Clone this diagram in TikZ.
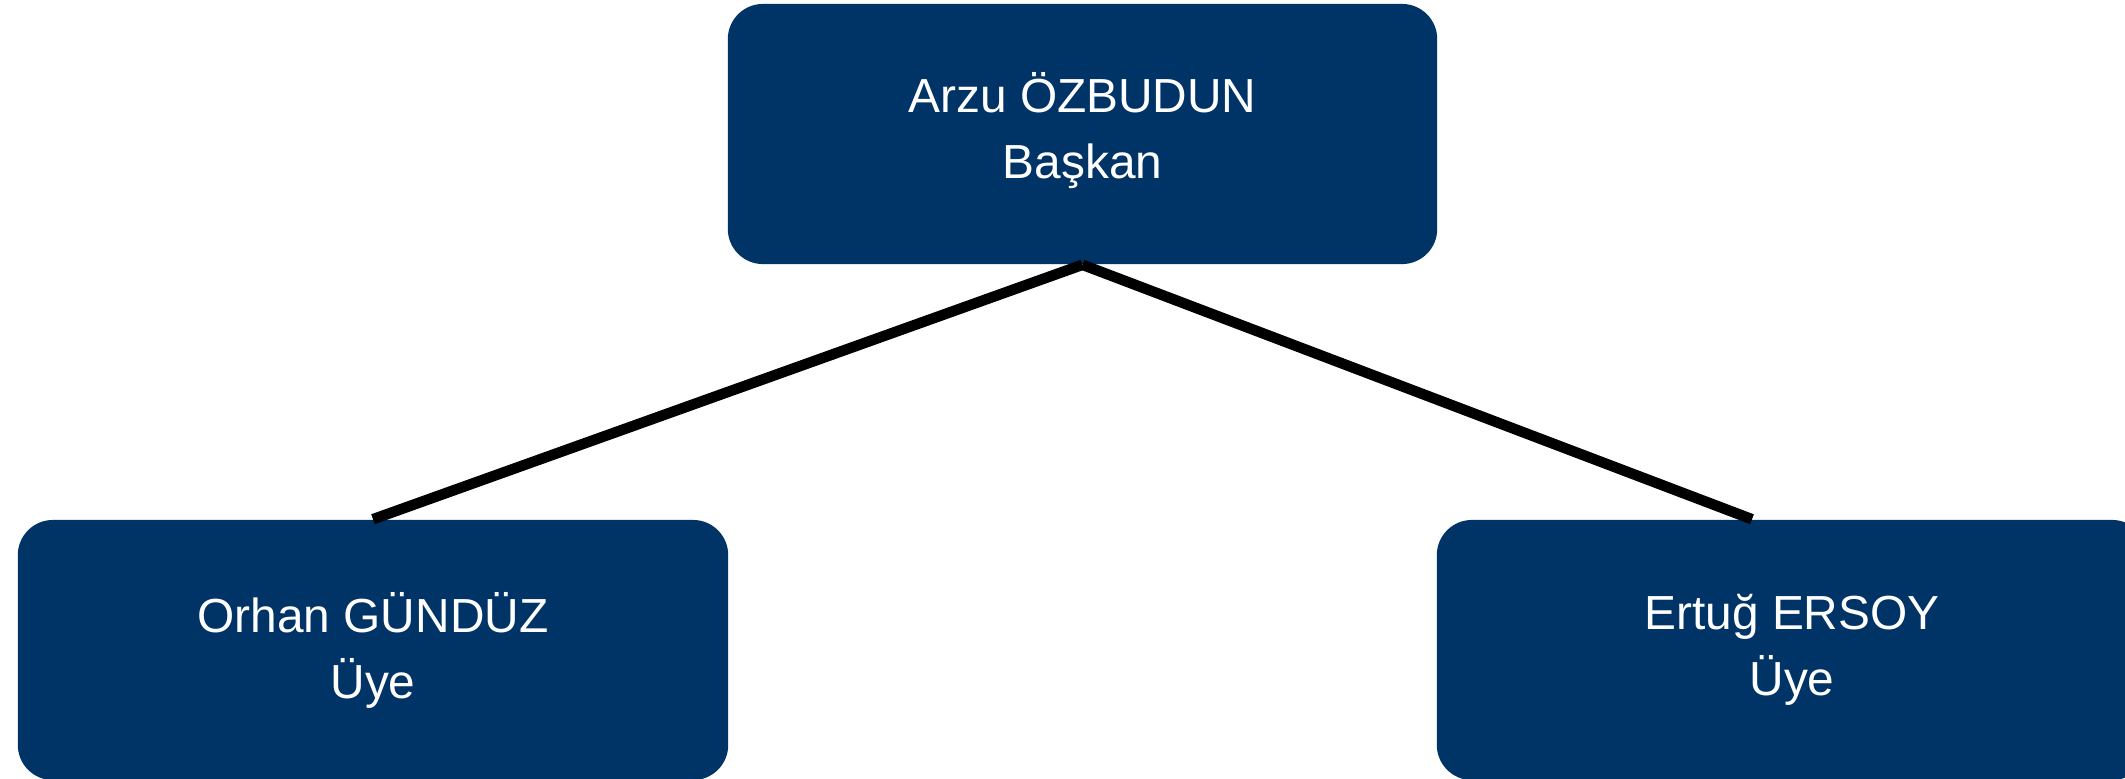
\documentclass[tikz,border=0pt]{standalone}
\usepackage{fontspec}
\setmainfont{Liberation Sans}
\usetikzlibrary{positioning}
\definecolor{lacivert}{RGB}{0,51,102}

\begin{document}
\begin{tikzpicture}[x=0.01cm, y=-0.01cm, line join=miter,
    kutu/.style={fill=lacivert, rounded corners=10pt, minimum width=7.1cm, minimum height=2.6cm, text=white, align=center, font=\fontsize{13.6pt}{18.8pt}\selectfont, inner sep=0pt},
    bag/.style={draw=black, line width=3pt}]
    \path[use as bounding box] (0,0) rectangle (2125,778);
    % baskan ve uyeler
    \node[kutu, minimum width=7.09cm] (baskan) at (1082.5,134) {Arzu ÖZBUDUN\\Başkan\rule[-5pt]{0pt}{0pt}};
    \node[kutu] (uye1) at (373,650) {Orhan GÜNDÜZ\\Üye};
    \node[kutu] (uye2) at (1792,650) {Ertuğ ERSOY\\Üye};
    \coordinate (u2ucu) at ([xshift=-0.4cm]uye2.north);
    % baglantilar
    \draw[bag] (baskan.south) -- (uye1.north);
    \draw[bag] (baskan.south) -- (u2ucu);
\end{tikzpicture}
\end{document}
